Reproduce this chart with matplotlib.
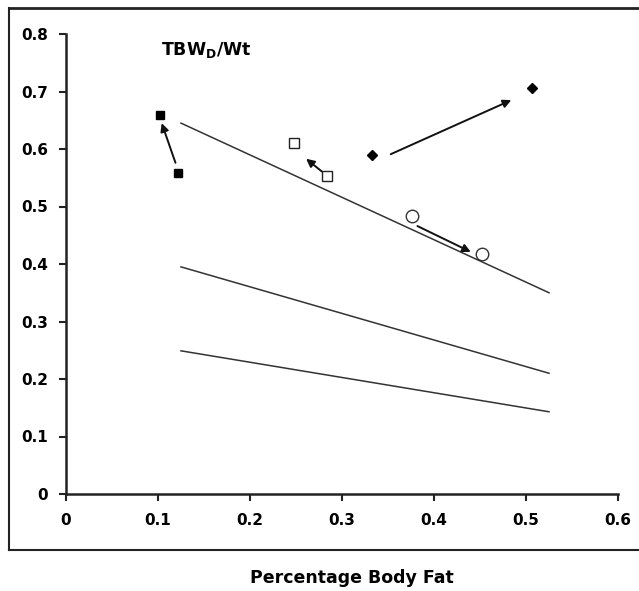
import numpy as np
import matplotlib.pyplot as plt
from matplotlib.lines import Line2D

plt.rcParams['font.family'] = ['DejaVu Sans']
plt.rcParams['mathtext.fontset'] = 'custom'
plt.rcParams['mathtext.bf'] = 'DejaVu Sans:bold'
plt.rcParams['mathtext.rm'] = 'DejaVu Sans:bold'

# regression lines (start/end of each)
line_x = [0.125, 0.525]
line_top = [0.645, 0.350]
line_mid = [0.395, 0.210]
line_low = [0.249, 0.143]

# paired points: first -> second, arrow drawn between them
filled_sq_x = [0.102, 0.122]
filled_sq_y = [0.659, 0.558]
open_sq_x = [0.248, 0.284]
open_sq_y = [0.610, 0.553]
diamond_x = [0.333, 0.507]
diamond_y = [0.590, 0.706]
circle_x = [0.376, 0.452]
circle_y = [0.483, 0.418]

# arrows (tail -> head)
arrows = [
    ((0.119, 0.576), (0.104, 0.645)),
    ((0.278, 0.561), (0.261, 0.583)),
    ((0.353, 0.591), (0.484, 0.685)),
    ((0.382, 0.466), (0.440, 0.421)),
]

xticks = [0, 0.1, 0.2, 0.3, 0.4, 0.5, 0.6]
xtick_labels = ['0', '0.1', '0.2', '0.3', '0.4', '0.5', '0.6']
yticks = [0, 0.1, 0.2, 0.3, 0.4, 0.5, 0.6, 0.7, 0.8]
ytick_labels = ['0', '0.1', '0.2', '0.3', '0.4', '0.5', '0.6', '0.7', '0.8']

fig = plt.figure(figsize=(6.39, 5.91), dpi=100)
ax = fig.add_axes([66/639, 1-494/591, (618-66)/639, (494-34)/591])

# outer frame (no right side visible)
fig.add_artist(Line2D([9/639, 9/639], [1-550/591, 1-8/591], color='#222222', lw=1.5))
fig.add_artist(Line2D([9/639, 1.0], [1-8/591, 1-8/591], color='#222222', lw=2.0))
fig.add_artist(Line2D([9/639, 1.0], [1-550/591, 1-550/591], color='#222222', lw=1.5))

lc = '#333333'
ax.plot(line_x, line_top, color=lc, lw=1.1)
ax.plot(line_x, line_mid, color=lc, lw=1.1)
ax.plot(line_x, line_low, color=lc, lw=1.1)

ax.plot(filled_sq_x, filled_sq_y, 's', color='black', ms=6, ls='none')
ax.plot(open_sq_x, open_sq_y, 's', mfc='white', mec='#222222', mew=1.0, ms=7.5, ls='none')
ax.plot(diamond_x, diamond_y, 'D', color='black', ms=5.5, ls='none')
ax.plot(circle_x, circle_y, 'o', mfc='white', mec='#333333', mew=1.0, ms=9, ls='none')

for tail, head in arrows:
    ax.annotate('', xy=head, xytext=tail,
                arrowprops=dict(arrowstyle='-|>', color='#111111', lw=1.4,
                                mutation_scale=12, shrinkA=0, shrinkB=0))

ax.text(0.103, 0.772, r'TBW$_\mathbf{D}$/Wt', fontsize=12.5, fontweight='bold',
        va='center', ha='left')

ax.set_xlim(0, 0.6)
ax.set_ylim(0, 0.8)
ax.set_xticks(xticks)
ax.set_xticklabels(xtick_labels)
ax.set_yticks(yticks)
ax.set_yticklabels(ytick_labels)
for lab in ax.get_xticklabels() + ax.get_yticklabels():
    lab.set_fontweight('bold')
    lab.set_fontsize(11)
ax.tick_params(direction='out', length=5, width=1.5, color='#222222', pad=8)
ax.tick_params(axis='x', pad=9)
ax.spines['top'].set_visible(False)
ax.spines['right'].set_visible(False)
for s in ['left', 'bottom']:
    ax.spines[s].set_linewidth(1.8)
    ax.spines[s].set_color('#222222')

fig.text(352/639, 1-578/591, 'Percentage Body Fat', fontsize=12.5, fontweight='bold',
         ha='center', va='center')

fig.savefig('out.png', dpi=100, facecolor='white')
